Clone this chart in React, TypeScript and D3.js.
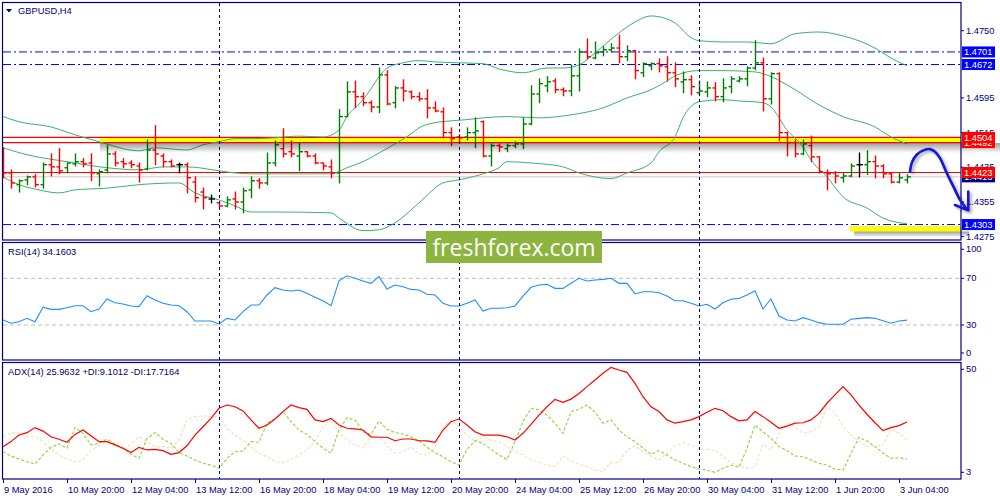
import React from "react";
import * as d3 from "d3";

// ---------------- data ----------------
const opens = [
  1.4475, 1.4422, 1.4395, 1.4406, 1.4413, 1.4395, 1.4441, 1.4436, 1.4434, 1.4443,
  1.4448, 1.4445, 1.4420, 1.4429, 1.4466, 1.4448, 1.4445, 1.4438, 1.4431, 1.4475,
  1.4461, 1.4448, 1.4441, 1.4441, 1.4401, 1.4378, 1.4362, 1.4353, 1.4346, 1.4362,
  1.4355, 1.4383, 1.4404, 1.4399, 1.4445, 1.4478, 1.4471, 1.4461, 1.4471, 1.4461,
  1.4445, 1.4436, 1.4422, 1.4552, 1.4609, 1.4598, 1.4584, 1.4574, 1.4648, 1.4584,
  1.4618, 1.4609, 1.4598, 1.4593, 1.4572, 1.4563, 1.4515, 1.4505, 1.4505, 1.4515,
  1.4540, 1.4461, 1.4485, 1.4478, 1.4485, 1.4489, 1.4535, 1.4604, 1.4623, 1.4634,
  1.4614, 1.4611, 1.4646, 1.4701, 1.4687, 1.4701, 1.4706, 1.4710, 1.4690, 1.4704,
  1.4653, 1.4669, 1.4674, 1.4667, 1.4653, 1.4632, 1.4637, 1.4607, 1.4609, 1.4618,
  1.4598, 1.4621, 1.4634, 1.4639, 1.4664, 1.4676, 1.4593, 1.4651, 1.4515, 1.4492,
  1.4466, 1.4485, 1.4459, 1.4422, 1.4422, 1.4411, 1.4415, 1.4441, 1.4441, 1.4448,
  1.4438, 1.4420, 1.4401, 1.4406,
];
const highs = [
  1.4480, 1.4429, 1.4406, 1.4415, 1.4418, 1.4445, 1.4466, 1.4478, 1.4445, 1.4466,
  1.4455, 1.4466, 1.4429, 1.4485, 1.4471, 1.4455, 1.4450, 1.4445, 1.4498, 1.4531,
  1.4466, 1.4452, 1.4445, 1.4445, 1.4413, 1.4387, 1.4371, 1.4355, 1.4367, 1.4378,
  1.4387, 1.4413, 1.4409, 1.4468, 1.4496, 1.4524, 1.4496, 1.4492, 1.4471, 1.4466,
  1.4445, 1.4452, 1.4568, 1.4632, 1.4634, 1.4607, 1.4588, 1.4664, 1.4658, 1.4621,
  1.4637, 1.4611, 1.4607, 1.4614, 1.4586, 1.4572, 1.4526, 1.4510, 1.4526, 1.4549,
  1.4542, 1.4489, 1.4489, 1.4489, 1.4494, 1.4549, 1.4623, 1.4639, 1.4644, 1.4639,
  1.4618, 1.4671, 1.4708, 1.4731, 1.4724, 1.4713, 1.4720, 1.4740, 1.4715, 1.4704,
  1.4676, 1.4676, 1.4685, 1.4690, 1.4676, 1.4655, 1.4646, 1.4634, 1.4632, 1.4630,
  1.4639, 1.4644, 1.4644, 1.4667, 1.4727, 1.4687, 1.4653, 1.4653, 1.4515, 1.4498,
  1.4498, 1.4507, 1.4459, 1.4429, 1.4425, 1.4422, 1.4443, 1.4468, 1.4473, 1.4461,
  1.4441, 1.4422, 1.4422, 1.4418,
];
const lows = [
  1.4411, 1.4387, 1.4378, 1.4395, 1.4390, 1.4387, 1.4415, 1.4420, 1.4422, 1.4438,
  1.4436, 1.4404, 1.4392, 1.4422, 1.4438, 1.4434, 1.4434, 1.4401, 1.4429, 1.4441,
  1.4436, 1.4436, 1.4422, 1.4376, 1.4355, 1.4339, 1.4353, 1.4344, 1.4344, 1.4339,
  1.4330, 1.4365, 1.4387, 1.4395, 1.4438, 1.4459, 1.4459, 1.4427, 1.4459, 1.4443,
  1.4429, 1.4411, 1.4399, 1.4552, 1.4572, 1.4577, 1.4563, 1.4561, 1.4579, 1.4572,
  1.4588, 1.4593, 1.4588, 1.4549, 1.4563, 1.4503, 1.4485, 1.4492, 1.4498, 1.4480,
  1.4459, 1.4438, 1.4471, 1.4471, 1.4480, 1.4478, 1.4533, 1.4584, 1.4609, 1.4607,
  1.4600, 1.4600, 1.4611, 1.4685, 1.4685, 1.4692, 1.4701, 1.4676, 1.4681, 1.4639,
  1.4644, 1.4660, 1.4655, 1.4634, 1.4621, 1.4607, 1.4602, 1.4602, 1.4598, 1.4588,
  1.4586, 1.4607, 1.4632, 1.4623, 1.4660, 1.4565, 1.4581, 1.4496, 1.4461, 1.4459,
  1.4464, 1.4448, 1.4422, 1.4383, 1.4399, 1.4401, 1.4413, 1.4413, 1.4418, 1.4411,
  1.4411, 1.4399, 1.4399, 1.4399,
];
const closes = [
  1.4422, 1.4399, 1.4404, 1.4413, 1.4395, 1.4441, 1.4436, 1.4427, 1.4445, 1.4448,
  1.4443, 1.4422, 1.4425, 1.4466, 1.4445, 1.4443, 1.4441, 1.4429, 1.4475, 1.4466,
  1.4448, 1.4438, 1.4441, 1.4411, 1.4365, 1.4365, 1.4362, 1.4346, 1.4360, 1.4355,
  1.4381, 1.4404, 1.4399, 1.4445, 1.4487, 1.4466, 1.4466, 1.4471, 1.4461, 1.4445,
  1.4438, 1.4422, 1.4552, 1.4609, 1.4598, 1.4584, 1.4574, 1.4648, 1.4581, 1.4618,
  1.4611, 1.4598, 1.4593, 1.4572, 1.4565, 1.4515, 1.4501, 1.4503, 1.4515, 1.4519,
  1.4461, 1.4485, 1.4482, 1.4485, 1.4489, 1.4535, 1.4604, 1.4628, 1.4632, 1.4614,
  1.4611, 1.4646, 1.4701, 1.4690, 1.4699, 1.4706, 1.4710, 1.4690, 1.4704, 1.4658,
  1.4674, 1.4674, 1.4669, 1.4653, 1.4639, 1.4637, 1.4621, 1.4611, 1.4618, 1.4598,
  1.4618, 1.4639, 1.4639, 1.4664, 1.4676, 1.4593, 1.4651, 1.4515, 1.4492, 1.4466,
  1.4489, 1.4459, 1.4425, 1.4420, 1.4415, 1.4415, 1.4438, 1.4441, 1.4448, 1.4438,
  1.4420, 1.4401, 1.4411, 1.4413,
];

// Bollinger bands, read at sample bars
const upperIdx = [0, 2, 6, 9, 12, 17, 19, 23, 25, 27, 29, 31, 34, 37, 40, 42, 43, 45, 46, 47, 48, 50, 52, 54, 57, 60, 62, 65, 68, 70, 72, 74, 77, 79, 81, 83, 84, 86, 87, 90, 93, 96, 99, 102, 105, 109, 111, 113];
const upperVal = [1.4552, 1.4540, 1.4528, 1.4510, 1.4494, 1.4473, 1.4480, 1.4475, 1.4487, 1.4494, 1.4501, 1.4501, 1.4503, 1.4507, 1.4505, 1.4521, 1.4552, 1.4591, 1.4616, 1.4644, 1.4664, 1.4676, 1.4681, 1.4678, 1.4676, 1.4674, 1.4662, 1.4653, 1.4664, 1.4664, 1.4671, 1.4699, 1.4745, 1.4770, 1.4784, 1.4777, 1.4768, 1.4734, 1.4727, 1.4724, 1.4724, 1.4720, 1.4743, 1.4747, 1.4738, 1.4710, 1.4687, 1.4669];
const middleIdx = [0, 3, 8, 13, 17, 20, 23, 27, 29, 31, 35, 41, 43, 45, 47, 49, 51, 52, 54, 56, 58, 60, 63, 67, 71, 75, 78, 81, 83, 84, 87, 90, 94, 96, 99, 102, 105, 109, 111, 113];
const middleVal = [1.4480, 1.4464, 1.4448, 1.4434, 1.4429, 1.4436, 1.4436, 1.4427, 1.4422, 1.4420, 1.4420, 1.4420, 1.4434, 1.4448, 1.4468, 1.4489, 1.4512, 1.4526, 1.4538, 1.4542, 1.4545, 1.4549, 1.4552, 1.4549, 1.4556, 1.4572, 1.4595, 1.4614, 1.4634, 1.4646, 1.4658, 1.4658, 1.4655, 1.4644, 1.4614, 1.4579, 1.4552, 1.4528, 1.4505, 1.4489];
const lowerIdx = [0, 2, 4, 7, 9, 13, 17, 22, 24, 27, 29, 31, 34, 41, 42, 45, 47, 49, 52, 55, 57, 60, 62, 63, 66, 70, 72, 76, 78, 81, 82, 84, 85, 87, 90, 92, 95, 96, 98, 100, 101, 103, 105, 108, 110, 113];
const lowerVal = [1.4413, 1.4395, 1.4385, 1.4376, 1.4383, 1.4387, 1.4395, 1.4399, 1.4376, 1.4360, 1.4346, 1.4332, 1.4332, 1.4330, 1.4318, 1.4289, 1.4291, 1.4307, 1.4353, 1.4399, 1.4406, 1.4420, 1.4434, 1.4448, 1.4445, 1.4436, 1.4422, 1.4409, 1.4422, 1.4445, 1.4471, 1.4505, 1.4549, 1.4586, 1.4591, 1.4588, 1.4584, 1.4574, 1.4521, 1.4482, 1.4452, 1.4413, 1.4367, 1.4341, 1.4318, 1.4305];

const rsi = [
  34.3, 31.5, 32.8, 35.7, 32.8, 45.2, 43.4, 43.4, 44.8, 46.5,
  46.5, 41.4, 43.7, 52.3, 49.1, 48.0, 46.3, 45.7, 55.1, 51.4,
  48.6, 47.1, 46.5, 41.4, 33.4, 33.4, 33.4, 30.9, 35.7, 34.3,
  41.4, 47.1, 47.1, 55.7, 62.0, 60.0, 59.1, 60.0, 57.2, 53.8,
  50.8, 46.5, 67.9, 72.2, 70.0, 67.7, 65.7, 71.4, 60.8, 64.3,
  62.8, 60.5, 60.0, 56.3, 55.7, 48.6, 46.3, 46.3, 48.6, 51.4,
  42.0, 44.3, 44.3, 44.8, 46.3, 54.8, 62.3, 64.3, 64.8, 61.4,
  61.4, 65.7, 70.0, 67.7, 68.6, 69.1, 70.0, 65.7, 65.7, 56.6,
  58.5, 58.5, 57.7, 54.8, 50.8, 50.8, 48.6, 46.3, 47.7, 43.7,
  49.1, 52.0, 52.8, 55.7, 59.4, 43.7, 52.3, 37.7, 34.3, 33.4,
  36.3, 34.3, 32.0, 30.6, 30.6, 30.6, 34.9, 35.7, 36.3, 35.7,
  33.7, 31.5, 33.4, 34.16,
];
const adx = [
  14.7, 17.0, 20.0, 21.1, 23.4, 21.8, 19.2, 18.1, 16.7, 20.3,
  22.3, 19.7, 17.0, 17.0, 15.5, 14.0, 12.0, 14.4, 13.2, 13.5,
  12.9, 11.2, 12.0, 15.1, 20.0, 23.8, 27.6, 32.2, 33.7, 32.9,
  31.0, 26.9, 23.1, 24.6, 27.3, 30.7, 33.7, 32.5, 31.7, 26.9,
  26.1, 27.6, 24.6, 23.1, 22.8, 22.3, 19.2, 19.0, 19.0, 17.4,
  18.2, 18.2, 17.4, 17.3, 16.7, 22.3, 26.1, 27.3, 24.6, 21.5,
  20.0, 20.0, 20.0, 19.2, 17.7, 20.8, 24.9, 29.1, 32.9, 36.3,
  34.9, 36.4, 39.0, 42.1, 45.1, 48.2, 50.9, 49.7, 48.6, 43.6,
  37.5, 32.9, 30.7, 26.9, 25.4, 26.1, 26.9, 28.4, 30.4, 32.2,
  31.1, 28.4, 26.5, 26.9, 30.7, 28.4, 25.8, 23.1, 24.1, 25.4,
  25.6, 26.9, 29.9, 34.5, 38.3, 42.1, 38.3, 33.7, 29.5, 25.6,
  22.0, 23.4, 24.3, 25.96,
];
const plusDI = [
  12.4, 10.4, 9.1, 7.8, 6.8, 10.9, 14.4, 15.9, 14.0, 23.4,
  20.8, 15.5, 16.2, 18.1, 15.9, 14.0, 11.2, 9.4, 18.5, 21.1,
  18.1, 16.2, 12.0, 10.4, 8.6, 7.1, 6.3, 4.8, 9.4, 12.4,
  12.7, 17.0, 16.7, 25.4, 27.3, 30.7, 26.1, 22.3, 20.3, 17.0,
  14.0, 11.7, 22.3, 27.9, 26.9, 21.5, 20.3, 26.4, 22.6, 21.1,
  20.5, 19.2, 17.4, 14.4, 12.0, 10.1, 7.8, 6.3, 13.5, 17.4,
  16.2, 13.5, 10.9, 8.9, 17.0, 26.1, 32.2, 31.4, 29.1, 25.4,
  20.8, 30.7, 31.7, 33.7, 30.4, 25.4, 26.9, 22.3, 19.2, 17.0,
  14.0, 11.2, 12.9, 10.9, 8.6, 7.1, 5.6, 4.5, 4.0, 3.0,
  4.8, 6.3, 5.3, 14.0, 24.6, 21.5, 18.5, 14.7, 12.9, 10.4,
  10.1, 8.6, 7.1, 6.3, 4.4, 4.0, 11.7, 19.0, 17.3, 14.7,
  11.7, 9.4, 9.6, 9.1,
];
const minusDI = [
  19.2, 21.1, 20.8, 19.2, 19.2, 17.0, 13.5, 10.9, 8.9, 7.8,
  8.6, 13.2, 15.0, 17.0, 15.9, 13.2, 15.9, 19.2, 17.0, 14.7,
  14.7, 14.0, 17.7, 26.9, 28.4, 28.8, 28.4, 28.4, 23.1, 20.0,
  17.7, 14.7, 11.7, 10.1, 7.8, 7.4, 8.9, 10.9, 13.2, 17.0,
  23.8, 26.9, 21.1, 17.7, 15.5, 14.0, 19.2, 19.2, 15.0, 11.7,
  12.4, 14.7, 11.2, 10.9, 14.0, 23.4, 26.9, 23.8, 20.0, 17.0,
  19.2, 17.7, 17.0, 14.7, 12.4, 10.9, 8.6, 7.6, 6.3, 5.6,
  10.4, 8.2, 6.8, 5.6, 4.0, 3.3, 7.4, 7.4, 13.2, 15.0,
  12.4, 10.4, 8.6, 11.7, 15.0, 16.5, 15.5, 13.6, 13.5, 12.9,
  10.4, 7.4, 5.9, 4.8, 5.6, 15.9, 13.2, 20.8, 25.6, 23.8,
  20.8, 21.5, 23.8, 32.9, 30.2, 23.8, 20.0, 17.0, 15.0, 15.0,
  15.5, 22.6, 20.8, 17.72,
];

const priceTicks = [1.475, 1.4595, 1.4515, 1.4435, 1.4355, 1.4275];
const rsiTicks = [100, 70, 30, 0];
const rsiLevels = [70, 30];
const adxTicks = [50, 3];
const dateTickBars = [0, 8, 16, 24, 32, 40, 48, 56, 64, 72, 80, 88, 96, 104, 112];
const dateTickLabels = [
  "9 May 2016", "10 May 20:00", "12 May 04:00", "13 May 12:00", "16 May 20:00",
  "18 May 04:00", "19 May 12:00", "20 May 20:00", "24 May 04:00", "25 May 12:00",
  "26 May 20:00", "30 May 04:00", "31 May 12:00", "1 Jun 20:00", "3 Jun 04:00",
];
const separatorBars = [27, 57, 87];

const blueLevels = [1.4701, 1.4672, 1.4303];
const redLevels = [1.4504, 1.4492, 1.4423];
const bidPrice = 1.4413;
const zoneTop = 1.4503;
const zoneBottom = 1.4492;
const zoneStartBar = 12.1;
const targetTop = 1.43;
const targetBottom = 1.4287;
const targetStartBar = 105.9;

const arrowBars = [113.38, 113.59, 114.21, 115.04, 115.88, 116.5, 117.13, 117.96, 118.79, 119.63, 120.46];
const arrowPrices = [1.4425, 1.4445, 1.4464, 1.4474, 1.4477, 1.4471, 1.4456, 1.4422, 1.4391, 1.436, 1.4339];
const arrowHeadBars = [119.0, 120.66, 120.66];
const arrowHeadPrices = [1.4348, 1.4336, 1.4379];

// ---------------- chart ----------------
const FONT = "'Liberation Sans', Arial, Helvetica, sans-serif";
const NAVY = "#000080";
const AXR = 961;

export default function App() {
  const n = closes.length;
  const x = d3.scaleLinear().domain([0, n - 1]).range([3, 907]);
  const y = d3.scaleLinear().domain([1.4275, 1.475]).range([236.7, 30.7]);
  const yR = d3.scaleLinear().domain([0, 100]).range([360, 243.3]);
  const yA = d3.scaleLinear().domain([3, 50]).range([472.3, 369.3]);

  const band = d3
    .line<[number, number]>()
    .x((d) => x(d[0]))
    .y((d) => y(d[1]))
    .curve(d3.curveMonotoneX);
  const zip = (a: number[], b: number[]) => a.map((v, i) => [v, b[i]] as [number, number]);

  const rsiLine = d3.line<number>().x((_, i) => x(i)).y((d) => yR(d));
  const adxLine = d3.line<number>().x((_, i) => x(i)).y((d) => yA(d));

  const arrowLine = d3
    .line<[number, number]>()
    .x((d) => x(d[0]))
    .y((d) => y(d[1]))
    .curve(d3.curveCatmullRom);
  const headLine = d3
    .line<[number, number]>()
    .x((d) => x(d[0]))
    .y((d) => y(d[1]));

  const txt = { fontFamily: FONT, fontSize: 9.3 };

  const labelBox = (price: number, label: string, fill: string, key: string) => (
    <g key={key}>
      <rect x={962} y={y(price) - 5.5} width={33} height={11} fill={fill} />
      <text x={964} y={y(price) + 0.5} fill="#ffffff" dominantBaseline="central" style={txt}>
        {label}
      </text>
    </g>
  );

  return (
    <div style={{ position: "absolute", left: 0, top: 0, width: 1000, height: 500, background: "#fff" }}>
      <svg width={1000} height={500} style={{ display: "block" }}>
        <defs>
          <clipPath id="clipMain">
            <rect x={3} y={3} width={AXR - 3} height={237} />
          </clipPath>
          <clipPath id="clipRsi">
            <rect x={3} y={243} width={AXR - 3} height={117} />
          </clipPath>
          <clipPath id="clipAdx">
            <rect x={3} y={363} width={AXR - 3} height={116} />
          </clipPath>
          <linearGradient id="shadowGrad" x1="0" y1="0" x2="0" y2="1">
            <stop offset="0" stopColor="#000" stopOpacity={0.38} />
            <stop offset="1" stopColor="#000" stopOpacity={0} />
          </linearGradient>
          <filter id="arrowShadow" x="-20%" y="-20%" width="140%" height="140%">
            <feDropShadow dx="2" dy="2" stdDeviation="1.4" floodColor="#000" floodOpacity="0.35" />
          </filter>
        </defs>

        <rect x={0} y={0} width={1000} height={500} fill="#fff" />

        {/* ---------- main panel ---------- */}
        <g clipPath="url(#clipMain)">
          {/* support/resistance zone */}
          <rect
            x={x(zoneStartBar)}
            y={y(zoneTop)}
            width={AXR - x(zoneStartBar)}
            height={y(zoneBottom) - y(zoneTop)}
            fill="#ffff00"
          />
          {blueLevels.map((p) => (
            <line key={"b" + p} x1={3} x2={AXR} y1={y(p)} y2={y(p)} stroke="#0000ff" strokeWidth={1} strokeDasharray="8 3 2 3" />
          ))}
          <line x1={3} x2={AXR} y1={y(bidPrice)} y2={y(bidPrice)} stroke="#c8c8c8" strokeWidth={1} />
          {redLevels.map((p) => (
            <line key={"r" + p} x1={3} x2={AXR} y1={y(p)} y2={y(p)} stroke="#ff0000" strokeWidth={1.2} />
          ))}
          {/* bollinger bands */}
          <g fill="none" stroke="#3cb371" strokeWidth={1}>
            <path d={band(zip(upperIdx, upperVal)) || ""} />
            <path d={band(zip(middleIdx, middleVal)) || ""} />
            <path d={band(zip(lowerIdx, lowerVal)) || ""} />
          </g>
          {/* OHLC bars */}
          {closes.map((c, i) => {
            const o = opens[i];
            const col = c > o ? "#008000" : c < o ? "#ff0000" : "#000000";
            const xi = Math.round(x(i)) + 0.5;
            return (
              <g key={i} stroke={col} strokeWidth={1.4}>
                <line x1={xi} x2={xi} y1={y(highs[i]) - 0.5} y2={y(lows[i]) + 0.5} />
                <line x1={xi - 3} x2={xi} y1={y(o)} y2={y(o)} />
                <line x1={xi} x2={xi + 3.5} y1={y(c)} y2={y(c)} />
              </g>
            );
          })}
          {/* target zone */}
          <rect
            x={x(targetStartBar)}
            y={y(targetTop)}
            width={AXR - x(targetStartBar)}
            height={y(targetBottom) - y(targetTop)}
            fill="#ffff00"
          />
        </g>
        {/* shadows under yellow zones */}
        <rect x={x(zoneStartBar)} y={y(zoneBottom) + 0.5} width={1000 - x(zoneStartBar)} height={10} fill="url(#shadowGrad)" />
        <rect x={x(targetStartBar) + 4} y={y(targetBottom)} width={AXR + 4 - x(targetStartBar)} height={6} fill="url(#shadowGrad)" />

        {/* ---------- RSI panel ---------- */}
        <g clipPath="url(#clipRsi)">
          {rsiLevels.map((v) => (
            <line key={v} x1={3} x2={AXR} y1={yR(v)} y2={yR(v)} stroke="#c0c0c0" strokeDasharray="4 3" />
          ))}
          <path d={rsiLine(rsi) || ""} fill="none" stroke="#1e90ff" strokeWidth={1.1} />
        </g>

        {/* ---------- ADX panel ---------- */}
        <g clipPath="url(#clipAdx)">
          <path d={adxLine(minusDI) || ""} fill="none" stroke="#f5deb3" strokeWidth={1.1} strokeDasharray="3 2" />
          <path d={adxLine(plusDI) || ""} fill="none" stroke="#9acd32" strokeWidth={1.1} strokeDasharray="3 2" />
          <path d={adxLine(adx) || ""} fill="none" stroke="#ff0000" strokeWidth={1.2} />
        </g>

        {/* period separators */}
        {separatorBars.map((b) => (
          <line key={b} x1={Math.round(x(b)) + 0.5} x2={Math.round(x(b)) + 0.5} y1={3} y2={479} stroke={NAVY} strokeWidth={1} strokeDasharray="3 3" />
        ))}

        {/* panel frames */}
        <g fill="none" stroke={NAVY} strokeWidth={1.2}>
          <rect x={2.5} y={2.5} width={AXR - 2.5} height={237.5} />
          <rect x={2.5} y={242.5} width={AXR - 2.5} height={117.5} />
          <rect x={2.5} y={362.5} width={AXR - 2.5} height={116.5} />
        </g>

        {/* price axis */}
        {priceTicks.map((p) => (
          <g key={"t" + p}>
            <line x1={AXR} x2={AXR + 3} y1={y(p)} y2={y(p)} stroke={NAVY} />
            <text x={966} y={y(p)} dominantBaseline="central" fill={NAVY} style={txt}>
              {p.toFixed(4)}
            </text>
          </g>
        ))}
        {labelBox(blueLevels[0], blueLevels[0].toFixed(4), "#0000ff", "l1")}
        {labelBox(blueLevels[1], blueLevels[1].toFixed(4), "#0000ff", "l2")}
        {labelBox(redLevels[1], redLevels[1].toFixed(4), "#ff0000", "l4")}
        {labelBox(redLevels[0], redLevels[0].toFixed(4), "#ff0000", "l3")}
        {labelBox(bidPrice, bidPrice.toFixed(4), "#000080", "l6")}
        {labelBox(redLevels[2], redLevels[2].toFixed(4), "#ff0000", "l5")}
        {labelBox(blueLevels[2], blueLevels[2].toFixed(4), "#0000ff", "l7")}

        {/* RSI axis */}
        {rsiTicks.map((v) => {
          const yy = v === 100 ? yR(v) + 6 : v === 0 ? yR(v) - 7 : yR(v);
          return (
            <g key={"r" + v}>
              <line x1={AXR} x2={AXR + 3} y1={yy} y2={yy} stroke={NAVY} />
              <text x={966} y={yy} dominantBaseline="central" fill={NAVY} style={txt}>
                {v}
              </text>
            </g>
          );
        })}
        {/* ADX axis */}
        {adxTicks.map((v) => (
          <g key={"a" + v}>
            <line x1={AXR} x2={AXR + 3} y1={yA(v)} y2={yA(v)} stroke={NAVY} />
            <text x={966} y={yA(v)} dominantBaseline="central" fill={NAVY} style={txt}>
              {v}
            </text>
          </g>
        ))}

        {/* time axis */}
        {dateTickBars.map((b, i) => (
          <g key={"d" + b}>
            <line x1={Math.round(x(b)) + 0.5} x2={Math.round(x(b)) + 0.5} y1={479} y2={483} stroke={NAVY} />
            <text x={x(b) + 1} y={489.5} dominantBaseline="central" fill={NAVY} style={txt}>
              {dateTickLabels[i]}
            </text>
          </g>
        ))}

        {/* titles */}
        <path d="M6,9 L12,9 L9,12.5 Z" fill={NAVY} />
        <text x={18} y={11} dominantBaseline="central" fill={NAVY} style={txt}>
          GBPUSD,H4
        </text>
        <text x={8} y={252} dominantBaseline="central" fill="#000060" style={txt}>
          RSI(14) 34.1603
        </text>
        <text x={8} y={372} dominantBaseline="central" fill="#000060" style={txt}>
          ADX(14) 25.9632 +DI:9.1012 -DI:17.7164
        </text>

        {/* forecast arrow */}
        <g filter="url(#arrowShadow)" fill="none" stroke="#1414d8" strokeWidth={2.6} strokeLinecap="round" strokeLinejoin="round">
          <path d={arrowLine(zip(arrowBars, arrowPrices)) || ""} />
          <path d={headLine(zip(arrowHeadBars, arrowHeadPrices)) || ""} />
        </g>

        {/* watermark */}
        <rect x={426} y={231} width={176} height={32} fill="#8cb43f" />
        <text
          x={514}
          y={247}
          textAnchor="middle"
          dominantBaseline="central"
          fill="#ffffff"
          style={{ fontFamily: "'Open Sans', 'Noto Sans', sans-serif", fontSize: 23 }}
        >
          freshforex.com
        </text>
      </svg>
    </div>
  );
}
